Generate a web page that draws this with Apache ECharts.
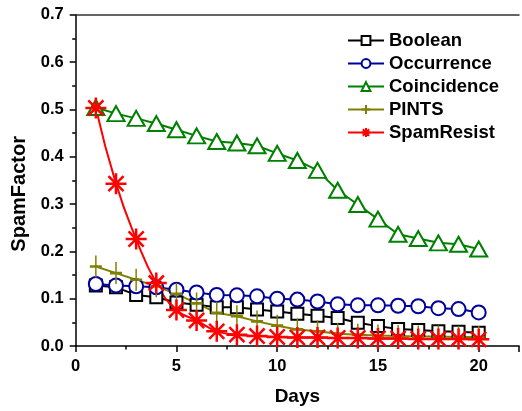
<!DOCTYPE html>
<html>
<head>
<meta charset="utf-8">
<script src="https://cdn.jsdelivr.net/npm/echarts@6/dist/echarts.min.js"></script>
<style>html,body{margin:0;padding:0;background:#fff;}#c{width:522px;height:411px;}</style>
</head>
<body>
<div id="c"></div>
<script>
const days = [1,2,3,4,5,6,7,8,9,10,11,12,13,14,15,16,17,18,19,20];
const seriesNames = ['Boolean','Occurrence','Coincidence','PINTS','SpamResist'];
const booleanVals = [0.128,0.124,0.108,0.103,0.092,0.087,0.082,0.082,0.077,0.073,0.068,0.064,0.059,0.049,0.042,0.036,0.034,0.031,0.030,0.028];
const occurrenceVals = [0.131,0.128,0.126,0.124,0.119,0.113,0.108,0.107,0.105,0.100,0.098,0.094,0.088,0.086,0.086,0.085,0.084,0.080,0.078,0.071];
const coincidenceVals = [0.504,0.491,0.481,0.470,0.457,0.444,0.432,0.429,0.423,0.407,0.392,0.371,0.329,0.299,0.268,0.236,0.227,0.218,0.215,0.205];
const pintsVals = [0.168,0.154,0.140,0.126,0.110,0.090,0.070,0.063,0.052,0.043,0.035,0.031,0.026,0.024,0.022,0.021,0.020,0.020,0.019,0.019];
const spamResistVals = [0.503,0.343,0.226,0.133,0.076,0.054,0.031,0.024,0.021,0.019,0.018,0.018,0.017,0.017,0.016,0.016,0.015,0.015,0.015,0.014];
const xTicks = [0,5,10,15,20];
const yTicks = [0.0,0.1,0.2,0.3,0.4,0.5,0.6,0.7];

const FONT = '"Liberation Sans", Arial, sans-serif';
const pair = v => days.map((d,i)=>[d, v[i]]);
const plusPath = 'path://M0,-1L0,1M-1,0L1,0';
const starPath = 'path://M0,-1L0,1M-1,0L1,0M-0.72,-0.72L0.72,0.72M-0.72,0.72L0.72,-0.72';

function mk(name, vals, color, symbol, size, smooth, fillWhite, bw) {
  return {
    name, type:'line', data: pair(vals), smooth: smooth,
    symbol, symbolSize: size, showSymbol:true,
    lineStyle:{color, width:2},
    itemStyle:{color: fillWhite ? '#fff' : color, borderColor: color, borderWidth: bw || 2},
    emphasis:{disabled:true}, animation:false, z: 2
  };
}

const chart = echarts.init(document.getElementById('c'), null, {renderer:'canvas'});
chart.setOption({
  animation:false,
  backgroundColor:'#fff',
  grid:{left:75.7, top:14.7, right:-1.9, bottom:62.7, containLabel:false},
  legend:{
    orient:'vertical', left:342, top:26, itemWidth:36, itemHeight:11, itemGap:4,
    textStyle:{fontFamily:FONT, fontWeight:'bold', fontSize:18.5, color:'#000'},
    data: seriesNames, selectedMode:false
  },
  xAxis:[{
    type:'value', min:0, max:22, interval:5,
    name:'Days', nameLocation:'middle', nameGap:41,
    nameTextStyle:{fontFamily:FONT, fontWeight:'bold', fontSize:19, color:'#000'},
    axisLine:{show:true, lineStyle:{color:'#000', width:1.5}},
    axisTick:{show:true, inside:false, length:6, lineStyle:{color:'#000', width:1.5}},
    minorTick:{show:true, splitNumber:2, length:3.5, lineStyle:{color:'#000', width:1.5}},
    splitLine:{show:false},
    axisLabel:{margin:12, fontFamily:FONT, fontWeight:'bold', fontSize:16.5, color:'#000',
      formatter: v => xTicks.indexOf(v) >= 0 ? String(v) : ''}
  },{
    type:'value', position:'top', min:0, max:22,
    axisLine:{show:true, lineStyle:{color:'#333', width:1.5}},
    axisTick:{show:false}, axisLabel:{show:false}, splitLine:{show:false}
  }],
  yAxis:{
    type:'value', min:0, max:0.7, interval:0.1,
    name:'SpamFactor', nameLocation:'middle', nameGap:39, nameRotate:90,
    nameTextStyle:{fontFamily:FONT, fontWeight:'bold', fontSize:20, color:'#000', padding:[0,27,0,0]},
    axisLine:{show:true, lineStyle:{color:'#000', width:1.5}},
    axisTick:{show:true, inside:false, length:6, lineStyle:{color:'#000', width:1.5}},
    minorTick:{show:true, splitNumber:2, length:3.5, lineStyle:{color:'#000', width:1.5}},
    splitLine:{show:false},
    axisLabel:{margin:12, fontFamily:FONT, fontWeight:'bold', fontSize:16.5, color:'#000',
      formatter: v => { const t = yTicks.find(x => Math.abs(x - v) < 1e-6); return t === undefined ? '' : t.toFixed(1); }}
  },
  series:[
    mk(seriesNames[0], booleanVals, '#000000', 'rect', 12, false, true),
    mk(seriesNames[1], occurrenceVals, '#00009C', 'circle', 14, false, true),
    mk(seriesNames[2], coincidenceVals, '#008000', 'triangle', [17,15], false, true),
    mk(seriesNames[3], pintsVals, '#808000', plusPath, [12,22], false, false),
    mk(seriesNames[4], spamResistVals, '#FF0000', starPath, 21, true, false, 2.5)
  ]
});
</script>
</body>
</html>
